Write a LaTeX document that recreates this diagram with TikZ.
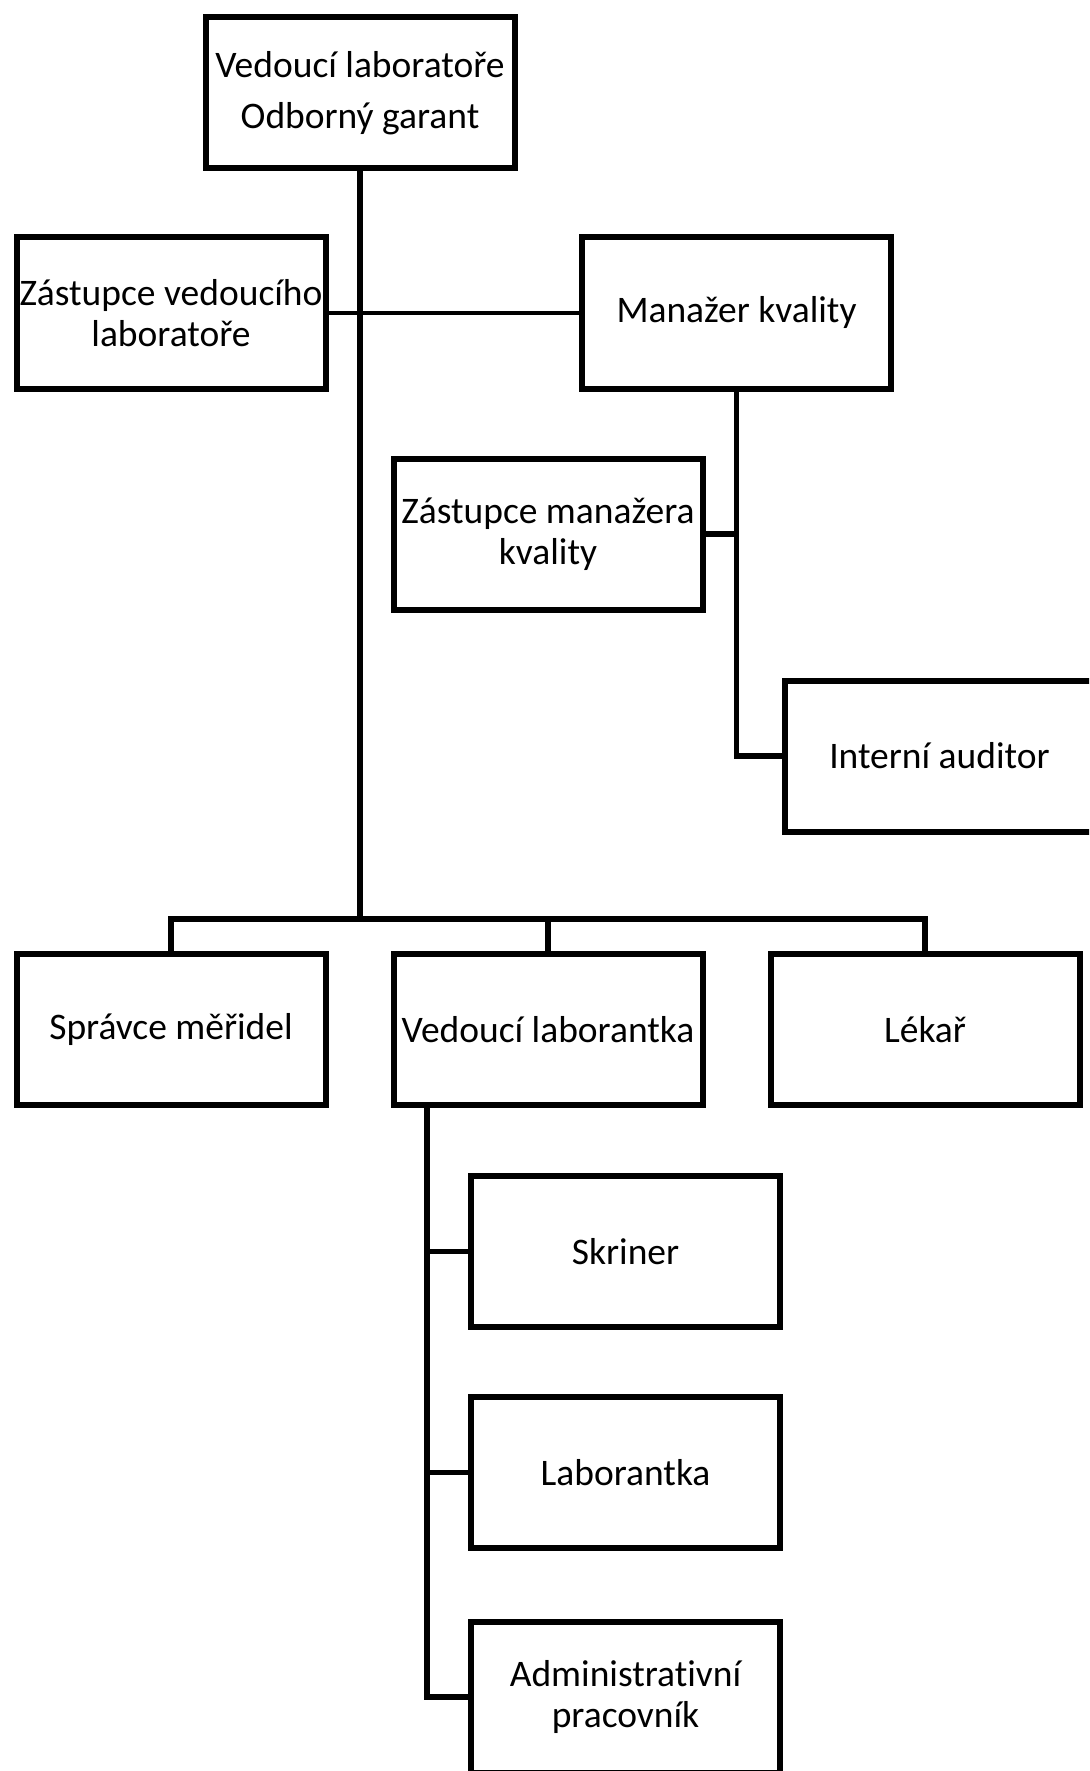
\documentclass[tikz,border=0pt]{standalone}
\usepackage{fontspec}
\setmainfont{Carlito}[Ligatures={NoCommon,NoRare}]
\usetikzlibrary{positioning}

\begin{document}
\begin{tikzpicture}[
    x=1pt, y=-1pt,
    box/.style={draw, line width=6pt, minimum width=309pt, minimum height=151pt, inner sep=0pt, align=center, font=\fontsize{37.5}{41}\selectfont},
    link/.style={line width=5.5pt},
    thinlink/.style={line width=4.5pt}
]
\useasboundingbox (0,0) rectangle (1089,1771);
\clip (0,0) rectangle (1089,1771);

% ---- Head of laboratory ----
\node[box] (lead) at (360, 93) {Vedoucí laboratoře\\[10pt]Odborný garant};

% ---- Deputy and quality manager ----
\node[box] (deputy) at (171, 313) {Zástupce vedoucího\\laboratoře};
\node[box] (qm) at (736.5, 313) {Manažer kvality};

% ---- Quality branch ----
\node[box] (qmdep) at (548, 534) {Zástupce manažera\\kvality};
\node[box] (auditor) at (939.5, 756) {Interní auditor};

% ---- Bottom row ----
\node[box] (gauge) at (171, 1029.5) {Správce měřidel};
\node[box] (headtech) at (548, 1029.5) {Vedoucí laborantka};
\node[box] (doctor) at (925, 1029.5) {Lékař};

% ---- Laboratory staff ----
\node[box] (screener) at (625.5, 1251.5) {Skriner};
\node[box] (labtech) at (625.5, 1472.5) {Laborantka};
\node[box] (admin) at (625.5, 1697) {Administrativní\\pracovník};

% ---- Junction points ----
\coordinate (split) at (360, 919);
\coordinate (labspine) at ([xshift=-121pt]headtech.south);

% ---- Main trunk ----
\draw[link] (lead.south) -- (split);
\draw[thinlink] (deputy.east) -- (qm.west);

% ---- Quality manager lines ----
\draw[link] (qm.south) |- (auditor.west);
\draw[link] (qmdep.east) -- (qmdep.east -| qm.south);

% ---- Bottom bar ----
\draw[link] (gauge.north) |- (split) -| (doctor.north);
\draw[link] (headtech.north) -- (headtech.north |- split);

% ---- Staff lines ----
\draw[link] (labspine) |- (admin.west);
\draw[link] (screener.west) -- (screener.west -| labspine);
\draw[link] (labtech.west) -- (labtech.west -| labspine);

\end{tikzpicture}
\end{document}
